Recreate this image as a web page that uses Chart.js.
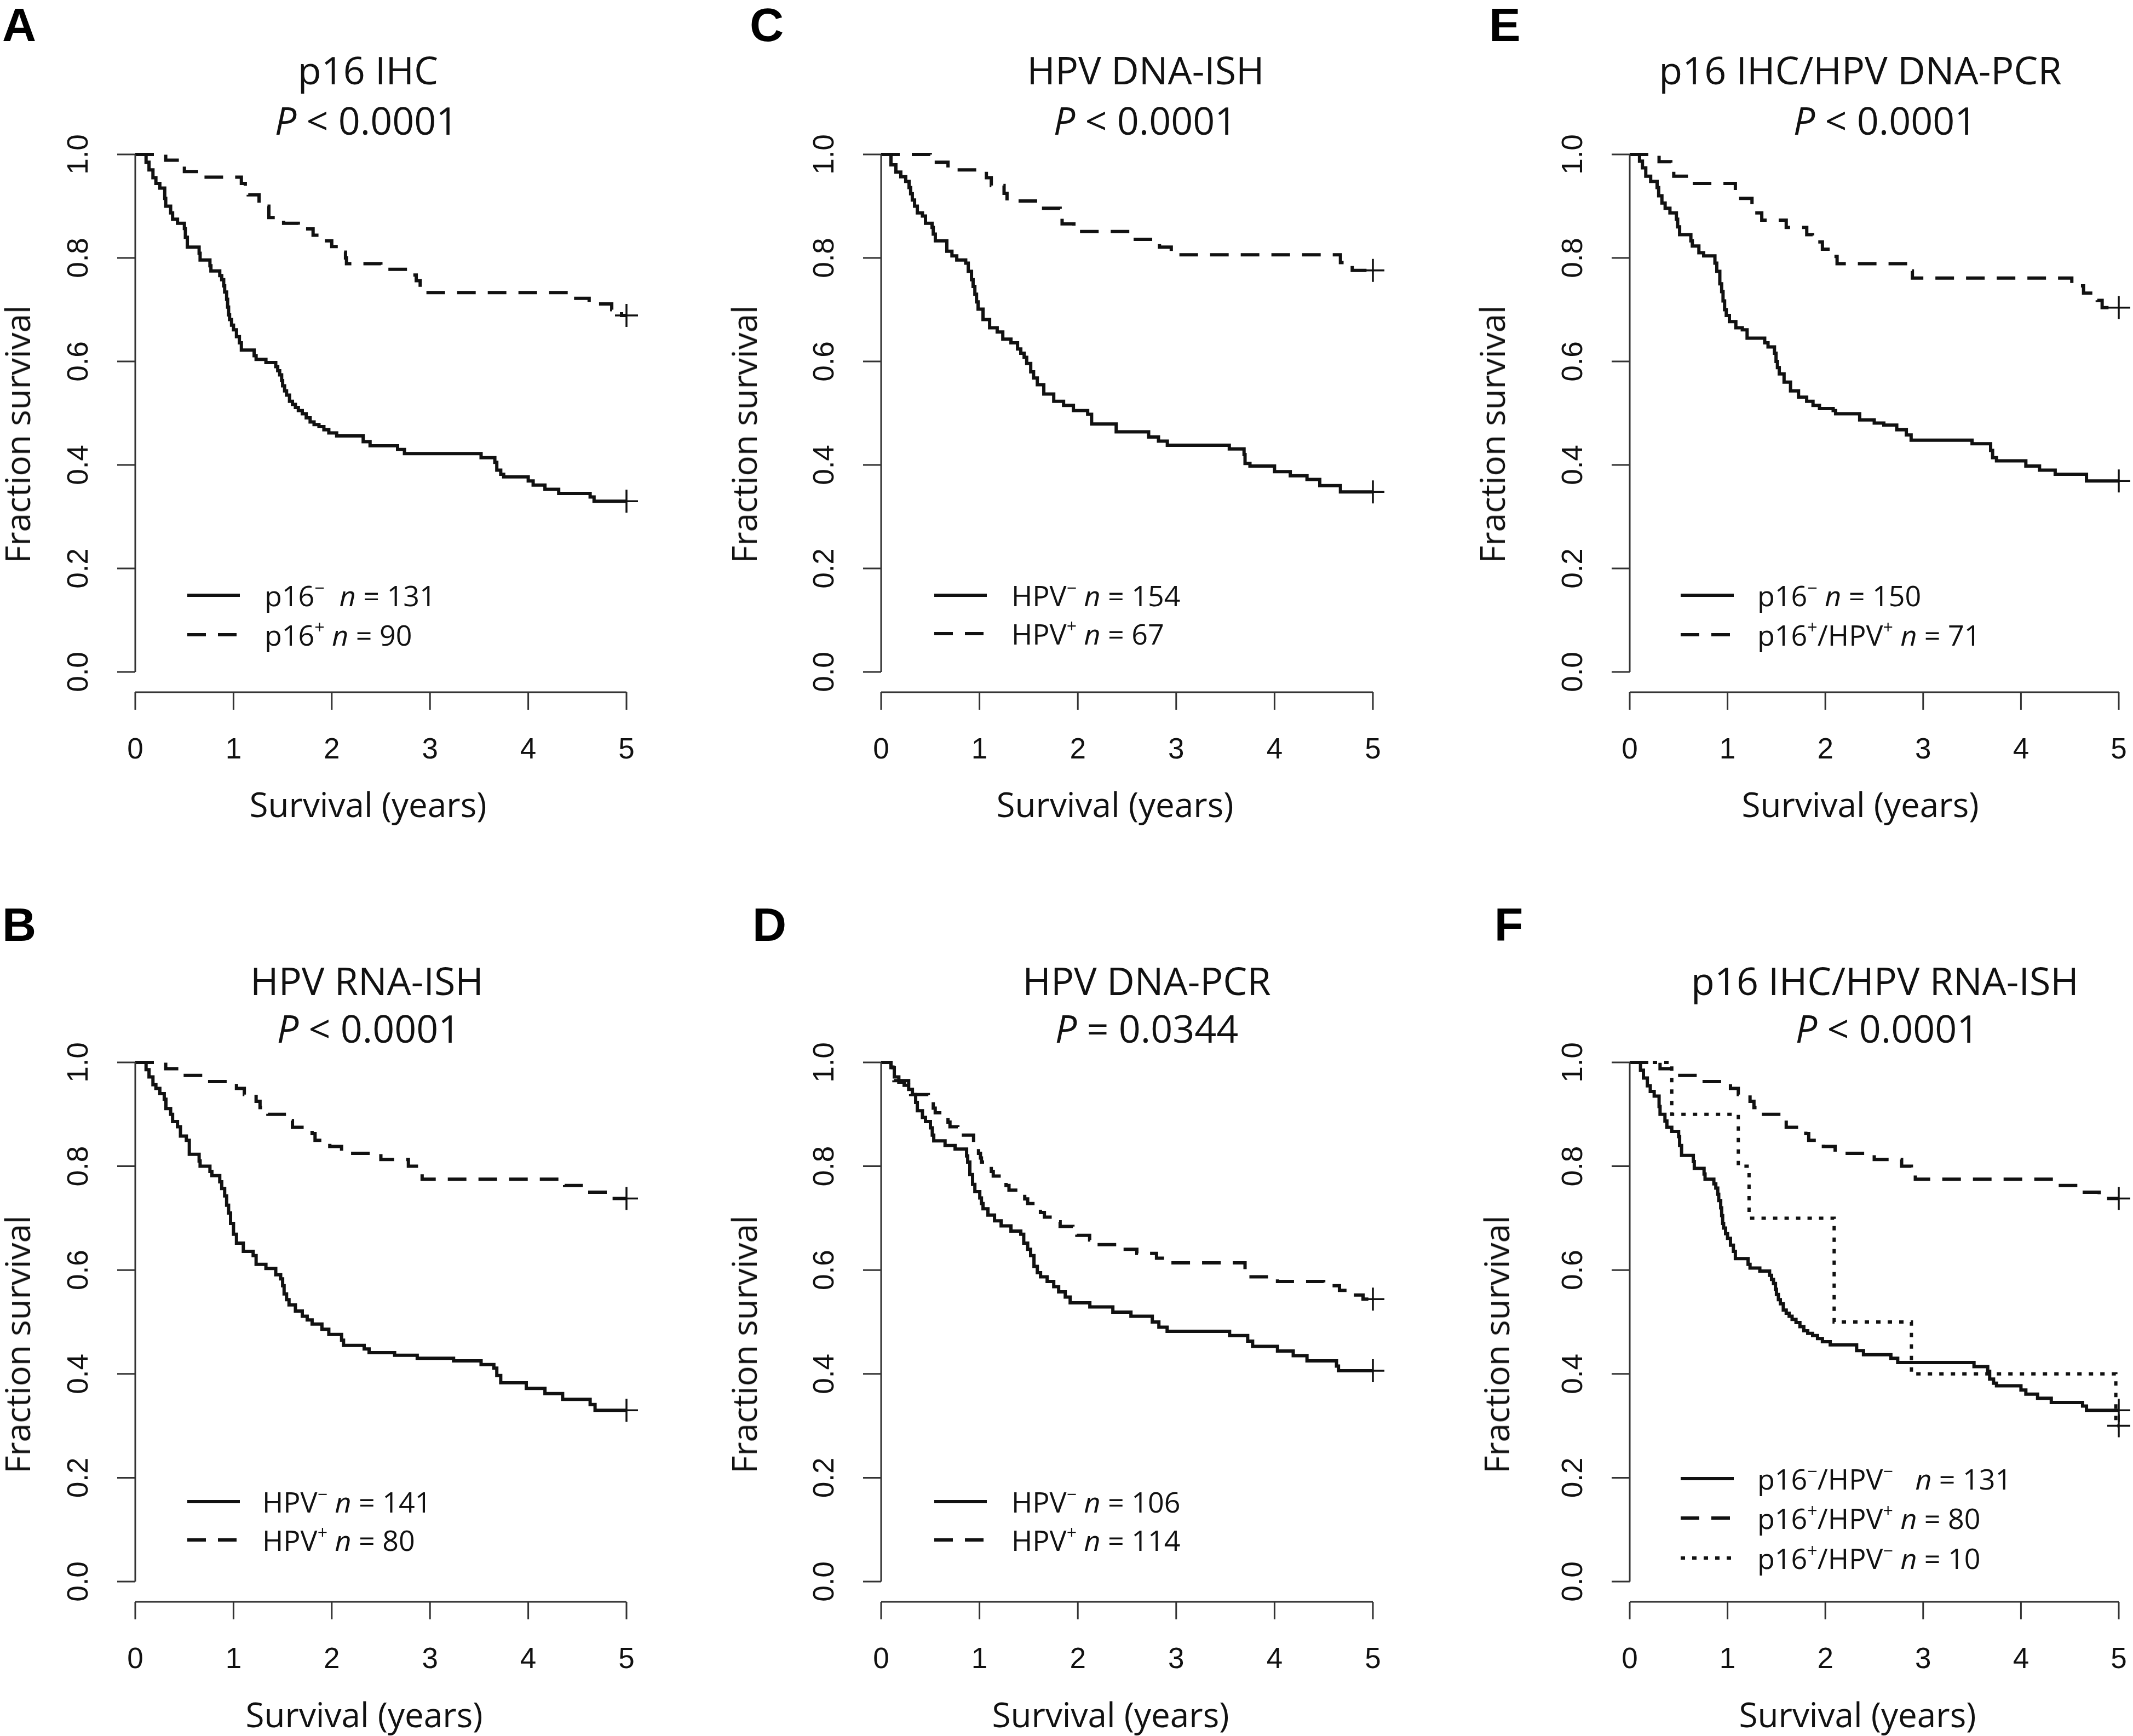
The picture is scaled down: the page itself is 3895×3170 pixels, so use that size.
<!DOCTYPE html>
<html>
<head>
<meta charset="utf-8">
<title>Kaplan-Meier survival by HPV / p16 status</title>
<script src="https://cdn.jsdelivr.net/npm/chart.js@4.4.1/dist/chart.umd.min.js"></script>
<style>
  body { margin: 0; background: #fff; }
  #page { position: relative; width: 3895px; height: 3170px; overflow: hidden; background: #fff;
          font-family: "Open Sans", "Noto Sans", sans-serif; color: #111; }
  #page canvas { position: absolute; }
  .txt { position: absolute; white-space: nowrap; line-height: 1; transform: translate(-50%, -50%); }
  .title { font-size: 70px; }
  .axis-title { font-size: 62px; }
  .letter { font-family: "Liberation Sans", Arial, sans-serif; font-weight: bold; font-size: 86px; color: #000; }
  .legend { font-size: 52px; transform: translate(0, -50%); }
  .rot { transform: translate(-50%, -50%) rotate(-90deg); }
  sup { font-size: 0.62em; line-height: 0; position: relative; top: -0.1em; vertical-align: super; }
</style>
</head>
<body>
<div id="page"></div>
<script>
// axis ticks
const yearTicks = [0, 1, 2, 3, 4, 5];
const fracTicks = [0, 0.2, 0.4, 0.6, 0.8, 1.0];
const fracTickLabels = ['0.0', '0.2', '0.4', '0.6', '0.8', '1.0'];

// Kaplan-Meier curves: [years, fraction surviving]
// A - p16 IHC (p16- curve is reused as p16-/HPV- in F)
const p16Neg = [[0,1],[0.11,0.985],[0.14,0.970],[0.18,0.955],[0.21,0.944],[0.25,0.935],[0.30,0.915],[0.31,0.900],
  [0.36,0.887],[0.38,0.875],[0.43,0.867],[0.50,0.857],[0.51,0.840],[0.53,0.821],[0.65,0.809],[0.66,0.796],
  [0.76,0.785],[0.77,0.775],[0.86,0.766],[0.88,0.758],[0.90,0.746],[0.91,0.734],[0.93,0.720],[0.94,0.705],
  [0.95,0.690],[0.96,0.681],[0.98,0.670],[1.00,0.661],[1.03,0.648],[1.06,0.636],[1.08,0.622],[1.21,0.611],
  [1.23,0.604],[1.33,0.598],[1.43,0.590],[1.45,0.582],[1.47,0.574],[1.49,0.563],[1.50,0.553],[1.52,0.543],
  [1.54,0.535],[1.57,0.523],[1.60,0.517],[1.63,0.511],[1.66,0.505],[1.70,0.499],[1.74,0.491],[1.78,0.483],
  [1.82,0.478],[1.87,0.474],[1.92,0.468],[1.97,0.462],[2.05,0.456],[2.32,0.445],[2.39,0.437],[2.67,0.430],
  [2.74,0.422],[3.52,0.414],[3.66,0.405],[3.68,0.390],[3.72,0.382],[3.75,0.377],[4.00,0.369],[4.05,0.361],
  [4.17,0.353],[4.31,0.345],[4.63,0.338],[4.67,0.330],[5,0.330]];
const p16Pos = [[0,1],[0.31,0.989],[0.46,0.978],[0.50,0.967],[0.68,0.956],[1.08,0.944],[1.12,0.933],[1.15,0.922],
  [1.26,0.900],[1.36,0.878],[1.51,0.867],[1.66,0.856],[1.81,0.844],[1.90,0.833],[2.00,0.822],[2.12,0.811],
  [2.14,0.800],[2.15,0.789],[2.50,0.778],[2.83,0.767],[2.86,0.756],[2.90,0.733],[4.44,0.722],[4.62,0.711],
  [4.85,0.700],[4.95,0.689],[5,0.689]];

// B - HPV RNA-ISH (HPV+ curve is reused as p16+/HPV+ in F)
const rnaNeg = [[0,1],[0.11,0.986],[0.14,0.972],[0.18,0.957],[0.21,0.950],[0.25,0.940],[0.295,0.929],[0.312,0.911],
  [0.36,0.900],[0.38,0.886],[0.43,0.876],[0.46,0.858],[0.52,0.850],[0.55,0.823],[0.65,0.810],[0.66,0.800],
  [0.76,0.790],[0.78,0.782],[0.86,0.770],[0.88,0.757],[0.91,0.743],[0.93,0.725],[0.95,0.710],[0.97,0.690],
  [1.00,0.669],[1.03,0.652],[1.10,0.636],[1.20,0.628],[1.23,0.611],[1.33,0.603],[1.43,0.591],[1.48,0.583],
  [1.50,0.570],[1.515,0.554],[1.54,0.543],[1.565,0.533],[1.63,0.521],[1.70,0.511],[1.75,0.504],[1.80,0.496],
  [1.90,0.486],[1.97,0.476],[2.10,0.465],[2.12,0.455],[2.33,0.448],[2.38,0.441],[2.64,0.436],[2.87,0.430],
  [3.24,0.425],[3.52,0.418],[3.65,0.411],[3.68,0.397],[3.72,0.383],[3.98,0.372],[4.17,0.362],[4.35,0.351],
  [4.63,0.341],[4.68,0.330],[5,0.330]];
const rnaPos = [[0,1],[0.31,0.988],[0.45,0.975],[0.70,0.963],[1.03,0.950],[1.11,0.938],[1.23,0.925],[1.27,0.913],
  [1.35,0.900],[1.55,0.888],[1.60,0.875],[1.80,0.863],[1.83,0.850],[1.98,0.838],[2.10,0.825],[2.50,0.813],
  [2.78,0.800],[2.88,0.788],[2.92,0.775],[4.37,0.763],[4.60,0.750],[4.80,0.738],[5,0.738]];

// C - HPV DNA-ISH
const ishNeg = [[0,1],[0.10,0.980],[0.15,0.966],[0.20,0.957],[0.25,0.948],[0.284,0.936],[0.30,0.924],[0.317,0.912],
  [0.34,0.900],[0.368,0.887],[0.42,0.881],[0.451,0.867],[0.518,0.859],[0.53,0.846],[0.551,0.833],[0.668,0.813],
  [0.72,0.804],[0.769,0.796],[0.86,0.790],[0.886,0.774],[0.919,0.758],[0.935,0.745],[0.953,0.730],[0.97,0.715],
  [0.986,0.701],[1.036,0.681],[1.103,0.665],[1.18,0.657],[1.237,0.643],[1.32,0.636],[1.387,0.624],[1.42,0.616],
  [1.454,0.608],[1.48,0.596],[1.521,0.580],[1.55,0.568],[1.588,0.555],[1.654,0.537],[1.755,0.523],[1.855,0.515],
  [1.955,0.505],[2.10,0.498],[2.14,0.479],[2.39,0.464],[2.72,0.454],[2.82,0.446],[2.91,0.438],[3.54,0.431],
  [3.69,0.420],[3.70,0.403],[3.75,0.398],[4.00,0.387],[4.16,0.379],[4.33,0.372],[4.46,0.360],[4.67,0.348],
  [5,0.348]];
const ishPos = [[0,1],[0.50,0.985],[0.68,0.970],[1.07,0.955],[1.12,0.940],[1.25,0.925],[1.28,0.910],[1.62,0.896],
  [1.82,0.881],[1.84,0.866],[1.96,0.851],[2.54,0.836],[2.83,0.821],[2.95,0.806],[4.67,0.791],[4.79,0.776],
  [5,0.776]];

// D - HPV DNA-PCR
const pcrNeg = [[0,1],[0.10,0.990],[0.134,0.972],[0.18,0.962],[0.234,0.956],[0.28,0.948],[0.318,0.938],[0.351,0.923],
  [0.368,0.907],[0.42,0.894],[0.451,0.886],[0.501,0.874],[0.52,0.860],[0.535,0.849],[0.65,0.840],[0.752,0.833],
  [0.869,0.820],[0.88,0.808],[0.902,0.784],[0.93,0.765],[0.953,0.751],[1.003,0.739],[1.02,0.728],[1.036,0.718],
  [1.086,0.706],[1.153,0.695],[1.22,0.685],[1.32,0.675],[1.42,0.669],[1.45,0.652],[1.49,0.640],[1.52,0.628],
  [1.554,0.607],[1.588,0.595],[1.621,0.587],[1.688,0.578],[1.755,0.568],[1.805,0.558],[1.872,0.548],[1.922,0.537],
  [2.122,0.529],[2.356,0.519],[2.54,0.511],[2.757,0.500],[2.824,0.490],[2.908,0.482],[3.543,0.474],[3.727,0.463],
  [3.777,0.453],[4.03,0.444],[4.19,0.435],[4.33,0.425],[4.63,0.415],[4.65,0.406],[5,0.406]];
const pcrPos = [[0,1],[0.10,0.991],[0.12,0.982],[0.13,0.965],[0.28,0.947],[0.30,0.938],[0.48,0.929],[0.53,0.912],
  [0.55,0.903],[0.68,0.885],[0.70,0.876],[0.78,0.860],[0.94,0.850],[0.96,0.838],[0.99,0.825],[1.01,0.816],
  [1.02,0.808],[1.09,0.799],[1.12,0.790],[1.14,0.781],[1.27,0.763],[1.30,0.754],[1.44,0.746],[1.46,0.737],
  [1.49,0.728],[1.59,0.719],[1.62,0.711],[1.66,0.702],[1.80,0.693],[1.82,0.684],[1.95,0.675],[1.99,0.667],
  [2.12,0.658],[2.15,0.649],[2.40,0.640],[2.60,0.632],[2.80,0.623],[2.88,0.614],[3.70,0.596],[3.72,0.587],
  [4.03,0.578],[4.50,0.570],[4.66,0.561],[4.80,0.552],[4.90,0.544],[5,0.544]];

// E - p16 IHC / HPV DNA-PCR
const comboNeg = [[0,1],[0.10,0.987],[0.13,0.974],[0.164,0.958],[0.214,0.948],[0.28,0.936],[0.296,0.920],[0.329,0.906],
  [0.362,0.896],[0.411,0.887],[0.477,0.875],[0.49,0.860],[0.51,0.845],[0.625,0.833],[0.64,0.823],[0.707,0.810],
  [0.756,0.804],[0.871,0.790],[0.89,0.774],[0.921,0.750],[0.94,0.735],[0.954,0.717],[0.97,0.700],[0.987,0.689],
  [1.019,0.677],[1.085,0.665],[1.151,0.661],[1.20,0.645],[1.38,0.636],[1.414,0.628],[1.48,0.616],[1.496,0.600],
  [1.51,0.588],[1.529,0.576],[1.578,0.560],[1.644,0.543],[1.726,0.531],[1.809,0.523],[1.874,0.515],[1.94,0.509],
  [2.08,0.505],[2.105,0.499],[2.351,0.487],[2.50,0.481],[2.598,0.477],[2.73,0.468],[2.828,0.458],[2.877,0.448],
  [3.50,0.441],[3.69,0.428],[3.71,0.414],[3.75,0.408],[4.05,0.398],[4.19,0.390],[4.35,0.382],[4.67,0.369],
  [5,0.369]];
const comboPos = [[0,1],[0.30,0.986],[0.42,0.972],[0.45,0.958],[0.64,0.944],[1.08,0.930],[1.10,0.915],[1.25,0.901],
  [1.27,0.887],[1.35,0.873],[1.60,0.859],[1.81,0.845],[1.87,0.831],[1.97,0.817],[2.09,0.803],[2.12,0.789],
  [2.85,0.775],[2.89,0.761],[4.52,0.746],[4.64,0.732],[4.78,0.718],[4.83,0.704],[5,0.704]];

// F - p16 IHC / HPV RNA-ISH
const discordant = [[0,1],[0.43,0.9],[1.11,0.8],[1.22,0.7],[2.09,0.5],[2.88,0.4],[4.97,0.3],[5,0.3]];

// titles and legend entries
const panelLetters = ['A', 'B', 'C', 'D', 'E', 'F'];
const panelTitles = ['p16 IHC', 'HPV RNA-ISH', 'HPV DNA-ISH', 'HPV DNA-PCR', 'p16 IHC/HPV DNA-PCR', 'p16 IHC/HPV RNA-ISH'];
const panelPvals = ['&lt; 0.0001', '&lt; 0.0001', '&lt; 0.0001', '= 0.0344', '&lt; 0.0001', '&lt; 0.0001'];
const groupsA = ['p16<sup>−</sup>&nbsp;', 'p16<sup>+</sup>'];
const countsA = [131, 90];
const groupsB = ['HPV<sup>−</sup>', 'HPV<sup>+</sup>'];
const countsB = [141, 80];
const groupsC = ['HPV<sup>−</sup>', 'HPV<sup>+</sup>'];
const countsC = [154, 67];
const groupsD = ['HPV<sup>−</sup>', 'HPV<sup>+</sup>'];
const countsD = [106, 114];
const groupsE = ['p16<sup>−</sup>', 'p16<sup>+</sup>/HPV<sup>+</sup>'];
const countsE = [150, 71];
const groupsF = ['p16<sup>−</sup>/HPV<sup>−</sup>&nbsp;&nbsp;', 'p16<sup>+</sup>/HPV<sup>+</sup>', 'p16<sup>+</sup>/HPV<sup>−</sup>'];
const countsF = [131, 80, 10];

const SOLID = [];
const DASH = [34, 22];
const DOT = [8, 13];
const CURVE_W = 6;

// page layout of the six panels (pixels)
const panels = [
  { box: [0, 0, 1300, 1600], plot: [247, 1144, 282, 1227], letter: [35, 45],
    t1: [672, 127], t2: [669, 219], xt: [672, 1468], yt: [31, 793],
    leg: { x0: 342, x1: 438, tx: 483, rows: [1087, 1159] },
    curves: [p16Neg, p16Pos], dashes: [SOLID, DASH], groups: groupsA, counts: countsA },
  { box: [0, 1600, 1300, 1570], plot: [247, 1144, 1940, 2888], letter: [35, 1688],
    t1: [670, 1790], t2: [673, 1877], xt: [665, 3130], yt: [31, 2455],
    leg: { x0: 342, x1: 438, tx: 479, rows: [2742, 2812] },
    curves: [rnaNeg, rnaPos], dashes: [SOLID, DASH], groups: groupsB, counts: countsB },
  { box: [1300, 0, 1300, 1600], plot: [1609, 2507, 282, 1227], letter: [1400, 45],
    t1: [2092, 127], t2: [2091, 219], xt: [2036, 1468], yt: [1358, 793],
    leg: { x0: 1706, x1: 1802, tx: 1847, rows: [1087, 1157] },
    curves: [ishNeg, ishPos], dashes: [SOLID, DASH], groups: groupsC, counts: countsC },
  { box: [1300, 1600, 1300, 1570], plot: [1609, 2507, 1940, 2888], letter: [1405, 1688],
    t1: [2094, 1790], t2: [2094, 1877], xt: [2028, 3130], yt: [1358, 2455],
    leg: { x0: 1706, x1: 1802, tx: 1847, rows: [2742, 2812] },
    curves: [pcrNeg, pcrPos], dashes: [SOLID, DASH], groups: groupsD, counts: countsD },
  { box: [2600, 0, 1295, 1600], plot: [2976, 3869, 282, 1227], letter: [2748, 45],
    t1: [3397, 127], t2: [3442, 219], xt: [3397, 1468], yt: [2724, 793],
    leg: { x0: 3069, x1: 3166, tx: 3209, rows: [1087, 1159] },
    curves: [comboNeg, comboPos], dashes: [SOLID, DASH], groups: groupsE, counts: countsE },
  { box: [2600, 1600, 1295, 1570], plot: [2976, 3869, 1940, 2888], letter: [2755, 1688],
    t1: [3442, 1790], t2: [3446, 1877], xt: [3392, 3130], yt: [2732, 2455],
    leg: { x0: 3069, x1: 3166, tx: 3209, rows: [2700, 2772, 2845] },
    curves: [p16Neg, rnaPos, discordant], dashes: [SOLID, DASH, DOT], groups: groupsF, counts: countsF }
];

const page = document.getElementById('page');

function addText(html, x, y, cls) {
  const d = document.createElement('div');
  d.className = 'txt ' + cls;
  d.innerHTML = html;
  d.style.left = x + 'px';
  d.style.top = y + 'px';
  page.appendChild(d);
}

// R-style detached axes, tick labels and legend line samples
const rAxes = {
  id: 'rAxes',
  afterDraw(chart, args, opts) {
    const { ctx, scales: { x, y } } = chart;
    const x0 = x.getPixelForValue(yearTicks[0]);
    const yb = y.getPixelForValue(fracTicks[0]);
    const yt = y.getPixelForValue(fracTicks[fracTicks.length - 1]);
    const axY = yb + 37;
    ctx.save();
    ctx.strokeStyle = '#333';
    ctx.lineWidth = 3;
    ctx.beginPath();
    ctx.moveTo(x0, axY);
    ctx.lineTo(x.getPixelForValue(yearTicks[yearTicks.length - 1]), axY);
    yearTicks.forEach(t => {
      const px = x.getPixelForValue(t);
      ctx.moveTo(px, axY);
      ctx.lineTo(px, axY + 32);
    });
    ctx.moveTo(x0, yb);
    ctx.lineTo(x0, yt);
    fracTicks.forEach(v => {
      const py = y.getPixelForValue(v);
      ctx.moveTo(x0, py);
      ctx.lineTo(x0 - 33, py);
    });
    ctx.stroke();

    ctx.fillStyle = '#111';
    ctx.font = '53px "Liberation Sans", Arial, sans-serif';
    ctx.textAlign = 'center';
    ctx.textBaseline = 'middle';
    yearTicks.forEach(t => ctx.fillText(String(t), x.getPixelForValue(t), axY + 106));
    fracTicks.forEach((v, i) => {
      ctx.save();
      ctx.translate(x0 - 102, y.getPixelForValue(v));
      ctx.rotate(-Math.PI / 2);
      ctx.fillText(fracTickLabels[i], 0, 0);
      ctx.restore();
    });

    // legend line samples
    const leg = opts.leg;
    ctx.strokeStyle = '#111';
    ctx.lineWidth = CURVE_W;
    leg.rows.forEach((ry, i) => {
      ctx.setLineDash(opts.dashes[i]);
      ctx.beginPath();
      ctx.moveTo(leg.x0 - opts.ox, ry - opts.oy);
      ctx.lineTo(leg.x1 - opts.ox, ry - opts.oy);
      ctx.stroke();
    });
    ctx.restore();
  }
};

panels.forEach((p, k) => {
  const [bx, by, bw, bh] = p.box;
  const [px0, px5, py1, py0] = p.plot;

  const cv = document.createElement('canvas');
  cv.width = bw;
  cv.height = bh;
  cv.style.left = bx + 'px';
  cv.style.top = by + 'px';
  cv.style.width = bw + 'px';
  cv.style.height = bh + 'px';
  page.appendChild(cv);

  const datasets = [];
  p.curves.forEach((c, i) => {
    datasets.push({
      data: c.map(([t, s]) => ({ x: t, y: s })),
      stepped: true,
      borderColor: '#111',
      borderWidth: CURVE_W,
      borderDash: p.dashes[i],
      borderCapStyle: 'butt',
      borderJoinStyle: 'miter',
      pointRadius: 0,
      fill: false,
      clip: false
    });
  });
  // censor marks at 5 years
  p.curves.forEach(c => {
    const last = c[c.length - 1];
    datasets.push({
      data: [{ x: last[0], y: last[1] }],
      showLine: false,
      pointStyle: 'cross',
      pointRadius: 21,
      pointBorderWidth: 3.5,
      pointBorderColor: '#111',
      borderDash: [],
      clip: false
    });
  });

  new Chart(cv, {
    type: 'line',
    data: { datasets },
    options: {
      responsive: false,
      animation: false,
      devicePixelRatio: 1,
      layout: { padding: { left: px0 - bx, right: bx + bw - px5, top: py1 - by, bottom: by + bh - py0 } },
      scales: {
        x: { type: 'linear', min: 0, max: 5, display: false },
        y: { type: 'linear', min: 0, max: 1, display: false }
      },
      plugins: {
        legend: { display: false },
        tooltip: { enabled: false },
        rAxes: { leg: p.leg, dashes: p.dashes, ox: bx, oy: by }
      }
    },
    plugins: [rAxes]
  });

  addText(panelLetters[k], p.letter[0], p.letter[1], 'letter');
  addText(panelTitles[k], p.t1[0], p.t1[1], 'title');
  addText('<i>P</i> ' + panelPvals[k], p.t2[0], p.t2[1], 'title');
  addText('Survival (years)', p.xt[0], p.xt[1], 'axis-title');
  addText('Fraction survival', p.yt[0], p.yt[1], 'axis-title rot');
  p.leg.rows.forEach((ry, i) => {
    addText(p.groups[i] + ' <i>n</i> = ' + p.counts[i], p.leg.tx, ry, 'legend');
  });
});
</script>
</body>
</html>
